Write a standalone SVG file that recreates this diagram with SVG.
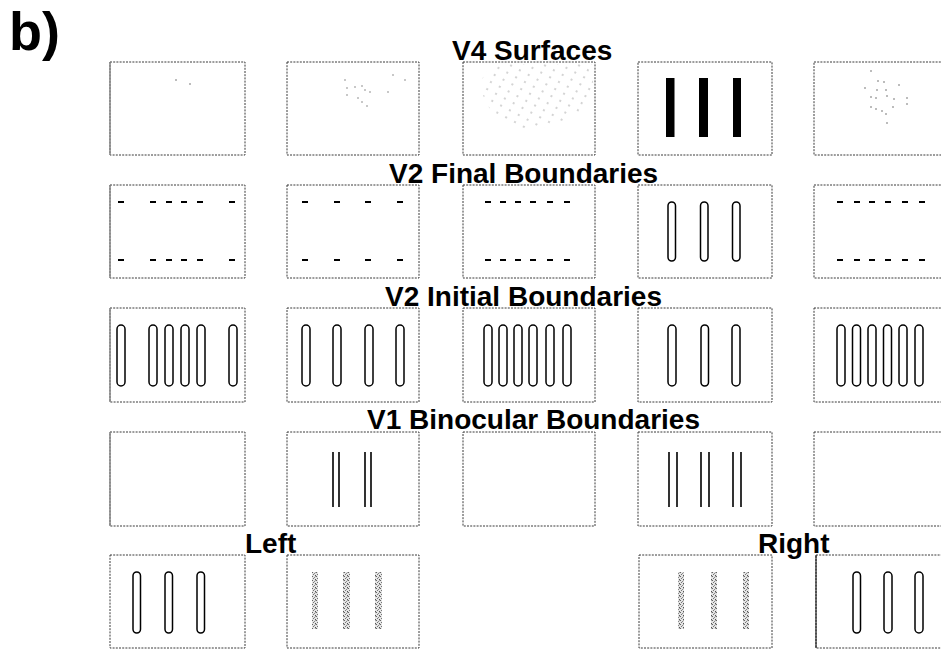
<svg xmlns="http://www.w3.org/2000/svg" width="941" height="649" viewBox="0 0 941 649">
<style>
.frame{fill:none;stroke:#3a3a3a;stroke-width:1;stroke-dasharray:2 1.2}
.title{font-family:"Liberation Sans",Arial,sans-serif;font-weight:bold;font-size:28px;fill:#000}
.cap{fill:#fff;stroke:#000;stroke-width:1.5}
.dash{stroke:#000;stroke-width:2.2}
.bar{fill:#000}
.dot{fill:#666}
.bline{stroke:#000;stroke-width:1.6}
.grain{fill:url(#grainPat)}
</style>
<defs>
<pattern id="grainPat" width="4" height="4" patternUnits="userSpaceOnUse">
<rect width="4" height="4" fill="#e4e4e4"/>
<rect x="0" y="0" width="1" height="1" fill="#666"/>
<rect x="2" y="1" width="1" height="1" fill="#888"/>
<rect x="1" y="2" width="1" height="1" fill="#777"/>
<rect x="3" y="3" width="1" height="1" fill="#555"/>
<rect x="3" y="0" width="1" height="1" fill="#aaa"/>
</pattern>
<pattern id="dotPat" width="10" height="8" patternUnits="userSpaceOnUse" patternTransform="rotate(28)">
<circle cx="2" cy="2" r="0.7" fill="#888"/>
</pattern>
<clipPath id="bowl">
<path d="M480,86 Q484,66 505,64 L592,64 L594,98 Q565,130 522,130 Q490,124 480,86 Z"/>
</clipPath>
</defs>

<text id="label-b" x="9" y="50" style="font-family:'Liberation Sans',Arial,sans-serif;font-weight:bold;font-size:54px">b)</text>

<text class="title" x="452" y="60">V4 Surfaces</text>
<text class="title" x="389" y="183">V2 Final Boundaries</text>
<text class="title" x="385" y="306">V2 Initial Boundaries</text>
<text class="title" x="367" y="429">V1 Binocular Boundaries</text>
<text class="title" x="245" y="553">Left</text>
<text class="title" x="758" y="553">Right</text>

<!-- Row 1: V4 Surfaces -->
<g id="v4-1">
<rect class="frame" x="110" y="62" width="135" height="93"/>
<line x1="110" y1="62" x2="110" y2="155" stroke="#888" stroke-width="1.5"/>
<circle class="dot" cx="176" cy="80" r="0.8"/><circle class="dot" cx="190" cy="84" r="0.8"/>
</g>
<g id="v4-2">
<rect class="frame" x="287" y="62" width="132" height="93"/>
<g class="dot">
<circle cx="345" cy="80" r="0.7"/><circle cx="347" cy="88" r="0.7"/><circle cx="347" cy="95" r="0.7"/><circle cx="355" cy="87" r="0.7"/><circle cx="362" cy="86" r="0.7"/><circle cx="365" cy="90" r="0.7"/><circle cx="358" cy="98" r="0.7"/><circle cx="362" cy="102" r="0.7"/><circle cx="367" cy="106" r="0.7"/><circle cx="370" cy="92" r="0.7"/><circle cx="388" cy="92" r="0.7"/><circle cx="393" cy="75" r="0.7"/><circle cx="405" cy="80" r="0.7"/>
</g>
</g>
<g id="v4-3">
<rect class="frame" x="463" y="62" width="132" height="93"/>
<rect x="463" y="62" width="132" height="93" fill="url(#dotPat)" clip-path="url(#bowl)"/>
</g>
<g id="v4-4">
<rect class="frame" x="638" y="62" width="134" height="93"/>
<rect class="bar" x="666" y="78" width="8.5" height="59"/>
<rect class="bar" x="699" y="78" width="9" height="59"/>
<rect class="bar" x="733" y="78" width="8" height="59"/>
</g>
<g id="v4-5">
<rect class="frame" x="814" y="62" width="134" height="93"/>
<g class="dot">
<circle cx="871" cy="71" r="0.8"/><circle cx="878" cy="81" r="0.8"/><circle cx="884" cy="82" r="0.8"/><circle cx="865" cy="88" r="0.8"/><circle cx="877" cy="90" r="0.8"/><circle cx="886" cy="90" r="0.8"/><circle cx="899" cy="85" r="0.8"/><circle cx="871" cy="97" r="0.8"/><circle cx="876" cy="98" r="0.8"/><circle cx="887" cy="96" r="0.8"/><circle cx="894" cy="99" r="0.8"/><circle cx="907" cy="98" r="0.8"/><circle cx="907" cy="104" r="0.8"/><circle cx="871" cy="107" r="0.8"/><circle cx="876" cy="109" r="0.8"/><circle cx="882" cy="111" r="0.8"/><circle cx="893" cy="107" r="0.8"/><circle cx="886" cy="114" r="0.8"/><circle cx="887" cy="123" r="0.8"/>
</g>
</g>

<!-- Row 2: V2 Final Boundaries -->
<g id="v2f-1">
<rect class="frame" x="110" y="185" width="135" height="93"/>
<line x1="110" y1="185" x2="110" y2="278" stroke="#888" stroke-width="1.5"/>
<g class="dash">
<path d="M118,202h6M150,202h6M166,202h6M181,202h6M197,202h6M229,202h6"/>
<path d="M118,260h6M150,260h6M166,260h6M181,260h6M197,260h6M229,260h6"/>
</g>
</g>
<g id="v2f-2">
<rect class="frame" x="287" y="185" width="132" height="93"/>
<g class="dash">
<path d="M302,202h6M334,202h6M365,202h6M397,202h6"/>
<path d="M302,260h6M334,260h6M365,260h6M397,260h6"/>
</g>
</g>
<g id="v2f-3">
<rect class="frame" x="463" y="185" width="132" height="93"/>
<g class="dash">
<path d="M485,202h6M500,202h6M515,202h6M530,202h6M547,202h6M564,202h6"/>
<path d="M485,260h6M500,260h6M515,260h6M530,260h6M547,260h6M564,260h6"/>
</g>
</g>
<g id="v2f-4">
<rect class="frame" x="638" y="185" width="134" height="93"/>
<rect class="cap" x="668" y="202" width="7.5" height="59" rx="3.7"/>
<rect class="cap" x="700.5" y="202" width="7.5" height="59" rx="3.7"/>
<rect class="cap" x="732.5" y="202" width="7.5" height="59" rx="3.7"/>
</g>
<g id="v2f-5">
<rect class="frame" x="814" y="185" width="134" height="93"/>
<g class="dash">
<path d="M837,202h6M854,202h6M869,202h6M885,202h6M902,202h6M919,202h6"/>
<path d="M837,260h6M854,260h6M869,260h6M885,260h6M902,260h6M919,260h6"/>
</g>
</g>

<!-- Row 3: V2 Initial Boundaries -->
<g id="v2i-1">
<rect class="frame" x="110" y="308" width="135" height="94"/>
<line x1="110" y1="308" x2="110" y2="402" stroke="#888" stroke-width="1.5"/>
<rect class="cap" x="117" y="325" width="8" height="61" rx="4"/>
<rect class="cap" x="149" y="325" width="8" height="61" rx="4"/>
<rect class="cap" x="165" y="325" width="8" height="61" rx="4"/>
<rect class="cap" x="181" y="325" width="8" height="61" rx="4"/>
<rect class="cap" x="197" y="325" width="8" height="61" rx="4"/>
<rect class="cap" x="229" y="325" width="8" height="61" rx="4"/>
</g>
<g id="v2i-2">
<rect class="frame" x="287" y="308" width="132" height="94"/>
<rect class="cap" x="302" y="325" width="8" height="61" rx="4"/>
<rect class="cap" x="333" y="325" width="8" height="61" rx="4"/>
<rect class="cap" x="365" y="325" width="8" height="61" rx="4"/>
<rect class="cap" x="396" y="325" width="8" height="61" rx="4"/>
</g>
<g id="v2i-3">
<rect class="frame" x="463" y="308" width="132" height="94"/>
<rect class="cap" x="484" y="325" width="8" height="61" rx="4"/>
<rect class="cap" x="499" y="325" width="8" height="61" rx="4"/>
<rect class="cap" x="514" y="325" width="8" height="61" rx="4"/>
<rect class="cap" x="529" y="325" width="8" height="61" rx="4"/>
<rect class="cap" x="546" y="325" width="8" height="61" rx="4"/>
<rect class="cap" x="563" y="325" width="8" height="61" rx="4"/>
</g>
<g id="v2i-4">
<rect class="frame" x="638" y="308" width="134" height="94"/>
<rect class="cap" x="668" y="325" width="8" height="61" rx="4"/>
<rect class="cap" x="701" y="325" width="7.5" height="61" rx="3.7"/>
<rect class="cap" x="732" y="325" width="8" height="61" rx="4"/>
</g>
<g id="v2i-5">
<rect class="frame" x="814" y="308" width="134" height="94"/>
<rect class="cap" x="837" y="325" width="8" height="61" rx="4"/>
<rect class="cap" x="852.5" y="325" width="8" height="61" rx="4"/>
<rect class="cap" x="868" y="325" width="8" height="61" rx="4"/>
<rect class="cap" x="883.5" y="325" width="8" height="61" rx="4"/>
<rect class="cap" x="899" y="325" width="8" height="61" rx="4"/>
<rect class="cap" x="915" y="325" width="8" height="61" rx="4"/>
</g>

<!-- Row 4: V1 Binocular Boundaries -->
<g id="v1-1">
<rect class="frame" x="110" y="432" width="135" height="94"/>
<line x1="110" y1="432" x2="110" y2="526" stroke="#888" stroke-width="1.5"/>
</g>
<g id="v1-2">
<rect class="frame" x="287" y="432" width="132" height="94"/>
<path class="bline" d="M333,452V507M339,452V507M365,452V507M371,452V507"/>
</g>
<g id="v1-3">
<rect class="frame" x="463" y="432" width="132" height="94"/>
</g>
<g id="v1-4">
<rect class="frame" x="638" y="432" width="134" height="94"/>
<path class="bline" d="M669,452V507M677,452V507M701,452V507M709,452V507M733,452V507M741,452V507"/>
</g>
<g id="v1-5">
<rect class="frame" x="814" y="432" width="134" height="94"/>
</g>

<!-- Row 5: Left / Right -->
<g id="left-1">
<rect class="frame" x="110" y="555" width="135" height="93"/>
<rect class="cap" x="133" y="572" width="7.5" height="61" rx="3.7"/>
<rect class="cap" x="165" y="572" width="7.5" height="61" rx="3.7"/>
<rect class="cap" x="197" y="572" width="7.5" height="61" rx="3.7"/>
</g>
<g id="left-2">
<rect class="frame" x="287" y="555" width="132" height="93"/>
<rect class="grain" x="312" y="572" width="6" height="57"/>
<rect class="grain" x="343" y="572" width="7" height="57"/>
<rect class="grain" x="375" y="572" width="7" height="57"/>
</g>
<g id="right-1">
<rect class="frame" x="639" y="555" width="133" height="93"/>
<rect class="grain" x="678" y="572" width="6" height="57"/>
<rect class="grain" x="711" y="572" width="6" height="57"/>
<rect class="grain" x="743" y="572" width="6" height="57"/>
</g>
<g id="right-2">
<rect class="frame" x="816" y="555" width="134" height="93"/>
<line x1="816" y1="555" x2="816" y2="648" stroke="#000" stroke-width="1"/>
<rect class="cap" x="853" y="572" width="7.5" height="61" rx="3.7"/>
<rect class="cap" x="884" y="572" width="8" height="61" rx="4"/>
<rect class="cap" x="915" y="572" width="8" height="61" rx="4"/>
</g>

<g id="connectors"></g>
</svg>
